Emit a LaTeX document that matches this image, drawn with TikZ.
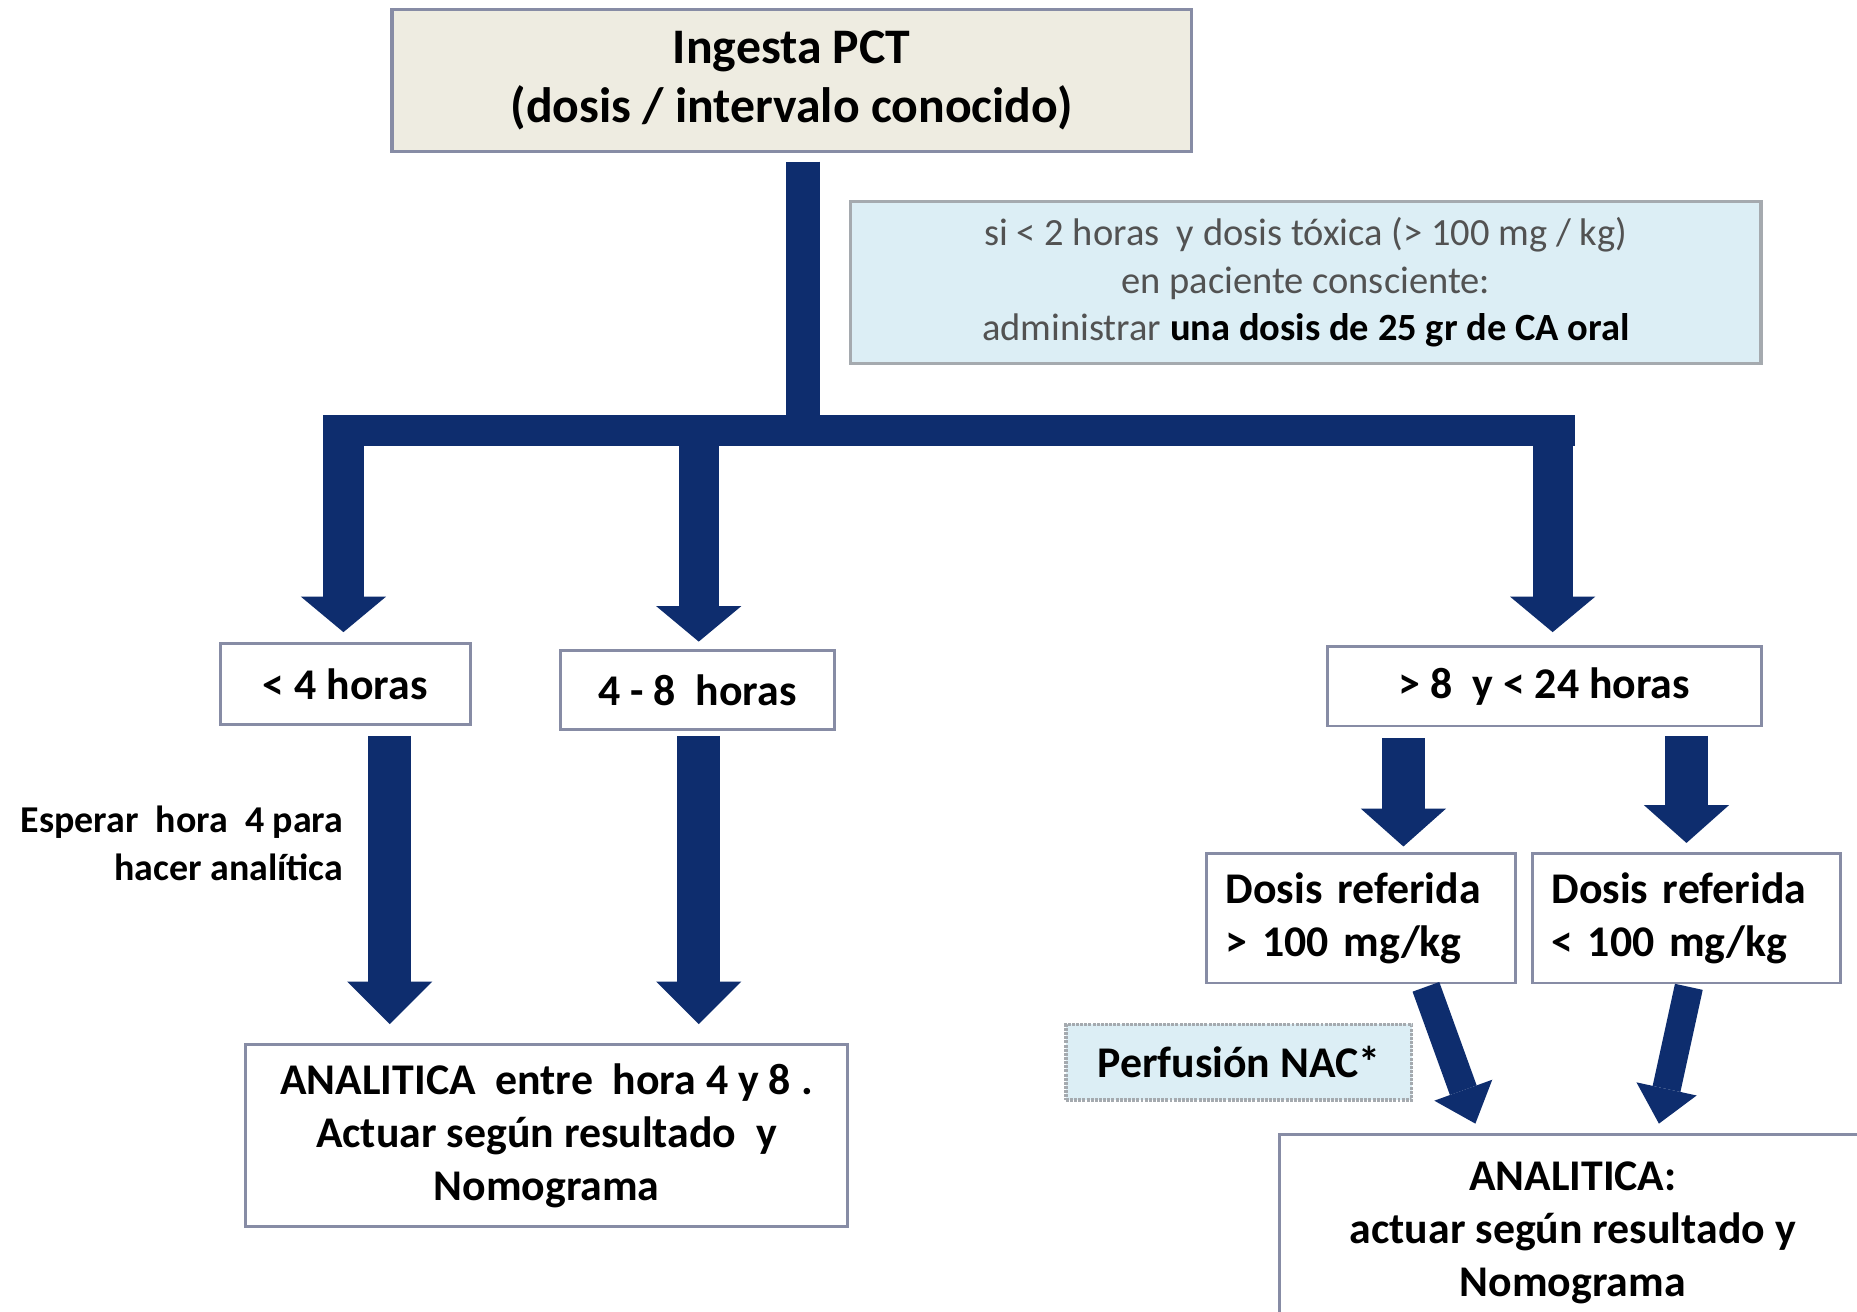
\documentclass[tikz,border=0pt]{standalone}
\usepackage{fontspec}
\setmainfont{Carlito}
\usetikzlibrary{arrows.meta,calc}
\definecolor{navy}{RGB}{14,45,110}
\definecolor{bordc}{RGB}{135,140,165}
\definecolor{infob}{RGB}{165,170,175}
\definecolor{beige}{RGB}{238,236,225}
\definecolor{lblue}{RGB}{220,238,245}
\tikzset{
  box/.style={draw=bordc, line width=2.5pt, fill=white, inner sep=0pt, align=center,
    font=\bfseries\fontsize{37}{45}\selectfont},
  fat/.style={draw=navy, line width=#1},
  arrA/.style={draw=navy, line width=34pt, -{Triangle[width=72pt,length=30pt,line width=0pt]}},
  arrB/.style={draw=navy, line width=36pt, -{Triangle[width=72pt,length=36pt,line width=0pt]}},
  arrC/.style={draw=navy, line width=36pt, -{Triangle[width=72pt,length=32pt,line width=0pt]}},
  arrD/.style={draw=navy, line width=24pt, -{Triangle[width=52pt,length=30pt,line width=0pt]}},
}
\begin{document}
\begin{tikzpicture}[x=1pt,y=-1pt]
\useasboundingbox (0,0) rectangle (1568,1107);
\clip (0,0) rectangle (1568,1107);
\fill[white] (0,0) rectangle (1568,1107);

% nodes
\node[box, fill=beige, line width=3pt, minimum width=675pt, minimum height=120pt,
      font=\bfseries\fontsize{42}{50}\selectfont] (top) at (668.5,68)
      {Ingesta PCT\\(dosis / intervalo conocido)};
\node[box, draw=infob, fill=lblue, line width=3pt, minimum width=769pt, minimum height=137pt,
      font=\fontsize{32.5}{40}\selectfont, text=black!68] (info) at (1102.5,238.5)
      {si < 2 horas~ y dosis tóxica (> 100 mg / kg)\\en paciente consciente:\\
       administrar {\color{black}\bfseries una dosis de 25 gr de CA oral}};
\node[box, minimum width=211pt, minimum height=69pt] (lt4) at (291.5,577.5) {< 4 horas};
\node[box, minimum width=232pt, minimum height=67pt] (b48) at (589,582.5) {4 - 8~ horas};
\node[box, minimum width=366pt, minimum height=67pt] (b824) at (1304,579.5) {> 8~ y < 24 horas};
\node[anchor=east, align=right, inner sep=0pt, font=\bfseries\fontsize{32}{40}\selectfont] (esp)
      at (290,712) {Esperar~ hora~ 4 para\\hacer analítica};
\node[box, minimum width=509pt, minimum height=154pt] (an1) at (461.5,959)
      {ANALITICA~ entre~ hora 4 y 8 .\\Actuar según resultado~ y\\Nomograma};
\node[box, minimum width=261pt, minimum height=109pt, text width=229pt, align=left] (dgt)
      at (1149.5,775.5) {Dosis referida\\> 100 mg/kg};
\node[box, minimum width=260pt, minimum height=109pt, text width=228pt, align=left] (dlt)
      at (1424,775.5) {Dosis referida\\< 100 mg/kg};
\node[box, draw=infob, densely dotted, line width=3pt, fill=lblue, minimum width=292pt, minimum height=64pt] (nac)
      at (1046,897) {Perfusión NAC*};
\node[box, minimum width=496pt, minimum height=166pt] (an2) at (1328,1041)
      {ANALITICA:\\actuar según resultado y\\Nomograma};

% junction coordinates
\coordinate (J) at (678,363.5);
\coordinate (BL) at (273,363.5);
\coordinate (BR) at (1330,363.5);
\coordinate (B1) at (290,363.5);
\coordinate (B2) at (590,363.5);
\coordinate (B3) at (1311,363.5);
\coordinate (X1) at (329,0);
\coordinate (X2) at (590,0);
\coordinate (X3) at (1185,0);
\coordinate (X4) at (1424,0);

% trunk and bar
\draw[fat=28pt] ($(top.south -| J)+(0,7)$) -- (J);
\draw[fat=27pt] (BL) -- (BR);
% branches
\draw[arrA] (B1) -- ($(lt4.north -| B1)+(0,-8)$);
\draw[arrA] (B2) -- ($(b48.north -| B2)+(0,-6)$);
\draw[arrA] (B3) -- ($(b824.north -| B3)+(0,-11)$);
% lower arrows
\draw[arrB] ($(lt4.south -| X1)+(0,8)$) -- ($(an1.north -| X1)+(0,-16)$);
\draw[arrB] ($(b48.south -| X2)+(0,4)$) -- ($(an1.north -| X2)+(0,-16)$);
\draw[arrC] ($(b824.south -| X3)+(0,9)$) -- ($(dgt.north -| X3)+(0,-5)$);
\draw[arrC] ($(b824.south -| X4)+(0,7)$) -- ($(dlt.north -| X4)+(0,-8)$);
% diagonals
\draw[arrD] ($(dgt.south)+(54.5,2)$) -- ($(an2.north west)+(167,-8)$);
\draw[arrD] ($(dlt.south)+(2,2)$) -- ($(an2.north west)+(322,-8)$);
\end{tikzpicture}
\end{document}
